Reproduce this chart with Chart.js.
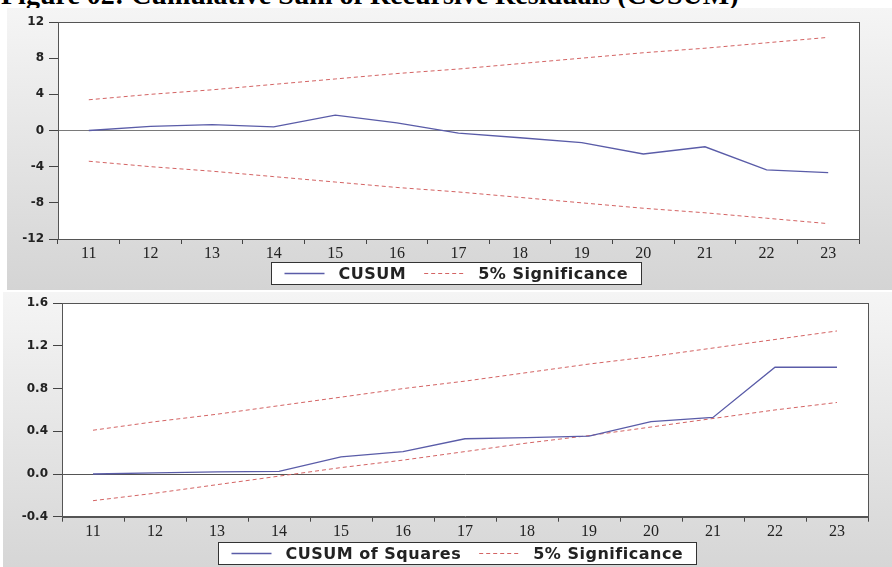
<!DOCTYPE html>
<html>
<head>
<meta charset="utf-8">
<script src="https://cdn.jsdelivr.net/npm/chart.js@4.4.1/dist/chart.umd.min.js"></script>
<style>
  html, body { margin: 0; padding: 0; background: #fff; width: 892px; height: 567px; overflow: hidden; position: relative; }
  #title { position: absolute; left: 1px; top: -21px; font: bold 28px "Liberation Serif", serif; color: #000; white-space: nowrap; }
  #panel1 { position: absolute; left: 7px; top: 8px; width: 885px; height: 282px; background: linear-gradient(#f5f5f5, #d4d4d4); }
  #panel2 { position: absolute; left: 3px; top: 292px; width: 889px; height: 275px; background: linear-gradient(#f5f5f5, #d6d6d6); }
  canvas { position: absolute; left: 0; }
  #cusumChart { top: 0; }
  #squaresChart { top: 291px; }
</style>
</head>
<body>
<div id="title">Figure 02: Cumulative Sum of Recursive Residuals (CUSUM)</div>
<div id="panel1"></div>
<div id="panel2"></div>
<canvas id="cusumChart" width="892" height="291"></canvas>
<canvas id="squaresChart" width="892" height="276"></canvas>
<script>
// Periodos del eje X
const periods = ['11', '12', '13', '14', '15', '16', '17', '18', '19', '20', '21', '22', '23'];

// CUSUM y sus bandas al 5%
const cusum = [0, 0.45, 0.65, 0.4, 1.7, 0.85, -0.3, -0.8, -1.35, -2.6, -1.8, -4.35, -4.65];
const cusumUpper = [3.4, 4.0, 4.5, 5.1, 5.7, 6.3, 6.8, 7.4, 8.0, 8.6, 9.1, 9.7, 10.3];
const cusumLower = [-3.4, -4.0, -4.5, -5.1, -5.7, -6.3, -6.8, -7.4, -8.0, -8.6, -9.1, -9.7, -10.3];

// CUSUM de cuadrados y sus bandas al 5%
const cusumSq = [0, 0.01, 0.02, 0.025, 0.16, 0.21, 0.33, 0.34, 0.355, 0.49, 0.53, 1.0, 1.0];
const sqUpper = [0.41, 0.49, 0.56, 0.64, 0.72, 0.80, 0.87, 0.95, 1.03, 1.10, 1.18, 1.26, 1.34];
const sqLower = [-0.25, -0.18, -0.10, -0.02, 0.06, 0.13, 0.21, 0.29, 0.36, 0.44, 0.52, 0.60, 0.67];

// Rangos del eje Y
const cusumAxis = { min: -12, max: 12, step: 4 };
const sqAxis = { min: -0.4, max: 1.6, step: 0.4 };

const blue = '#5a5ca8';
const red = '#d46464';

// Fondo blanco del area de trazado y marco
const framePlugin = {
    id: 'frame',
    beforeDraw(chart) {
        const a = chart.chartArea;
        const ctx = chart.ctx;
        ctx.save();
        ctx.fillStyle = '#fff';
        ctx.fillRect(a.left, a.top, a.right - a.left, a.bottom - a.top);
        ctx.restore();
    },
    afterDraw(chart) {
        const a = chart.chartArea;
        const ctx = chart.ctx;
        ctx.save();
        ctx.strokeStyle = '#555';
        ctx.lineWidth = 1;
        ctx.strokeRect(Math.round(a.left) + 0.5, Math.round(a.top) + 0.5, Math.round(a.right - a.left), Math.round(a.bottom - a.top));
        ctx.restore();
    }
};

// Leyenda con caja, al estilo EViews
const boxLegend = {
    id: 'boxLegend',
    afterDraw(chart, args, o) {
        const ctx = chart.ctx;
        const a = chart.chartArea;
        const items = chart.data.datasets.filter(d => d.label !== 'lower');
        ctx.save();
        ctx.font = 'bold 16px "DejaVu Sans"';
        if ('letterSpacing' in ctx) ctx.letterSpacing = '0.5px';
        const widths = items.map(d => ctx.measureText(d.label).width);
        const lineW = 40, gap = 14, itemGap = 18, margin = 13;
        let total = margin * 2 + itemGap * (items.length - 1);
        widths.forEach(w => { total += lineW + gap + w; });
        const cx = (a.left + a.right) / 2 + o.shift;
        const x1 = Math.round(cx - total / 2) + 0.5;
        const y1 = Math.round(o.centerY - o.height / 2) + 0.5;
        ctx.fillStyle = '#fff';
        ctx.fillRect(x1, y1, Math.round(total), o.height);
        ctx.strokeStyle = '#333';
        ctx.lineWidth = 1;
        ctx.strokeRect(x1, y1, Math.round(total), o.height);
        let x = x1 + margin;
        const cy = Math.round(o.centerY) + 0.5;
        items.forEach((d, i) => {
            ctx.beginPath();
            ctx.strokeStyle = d.borderColor;
            ctx.lineWidth = d.borderWidth;
            ctx.setLineDash(d.borderDash || []);
            ctx.moveTo(x, cy);
            ctx.lineTo(x + lineW, cy);
            ctx.stroke();
            ctx.setLineDash([]);
            x += lineW + gap;
            ctx.fillStyle = '#222';
            ctx.textBaseline = 'middle';
            ctx.fillText(d.label, x, cy + 1);
            x += widths[i] + itemGap;
        });
        ctx.restore();
    }
};

function makeChart(id, main, mainLabel, upper, lower, axis, opts) {
    const ctx = document.getElementById(id).getContext('2d');
    return new Chart(ctx, {
        type: 'line',
        data: {
            labels: periods,
            datasets: [
                { label: mainLabel, data: main, borderColor: blue, borderWidth: 1.3, pointRadius: 0, tension: 0, order: 1 },
                { label: '5% Significance', data: upper, borderColor: red, borderWidth: 1, borderDash: [4, 3], pointRadius: 0, tension: 0, order: 2 },
                { label: 'lower', data: lower, borderColor: red, borderWidth: 1, borderDash: [4, 3], pointRadius: 0, tension: 0, order: 2 }
            ]
        },
        options: {
            responsive: false,
            animation: false,
            layout: { padding: { left: 0, right: opts.right, top: opts.top, bottom: opts.bottom } },
            plugins: {
                tooltip: { enabled: false },
                legend: { display: false },
                boxLegend: { centerY: opts.legendY, height: 22, shift: opts.legendShift }
            },
            scales: {
                x: {
                    type: 'category',
                    offset: true,
                    grid: { offset: true, drawOnChartArea: false, tickLength: 5, tickColor: '#444', color: '#444' },
                    border: { color: '#555' },
                    ticks: { color: '#222', padding: 0, maxRotation: 0, font: { family: 'Liberation Serif', size: 16 } },
                    afterFit: s => { s.height = 26; }
                },
                y: {
                    min: axis.min,
                    max: axis.max,
                    grid: {
                        drawOnChartArea: true,
                        color: c => (Math.abs(c.tick.value) < 1e-9 ? opts.zeroColor : 'rgba(0,0,0,0)'),
                        tickColor: '#444',
                        tickLength: 9
                    },
                    border: { color: '#555' },
                    ticks: {
                        stepSize: axis.step,
                        padding: 5,
                        color: '#222',
                        font: { family: 'DejaVu Sans', weight: 'bold', size: 12 },
                        callback: v => opts.decimals ? Number(v).toFixed(1) : Math.round(v)
                    },
                    afterFit: s => { s.width = opts.yWidth; }
                }
            }
        },
        plugins: [framePlugin, boxLegend]
    });
}

window.onload = function() {
    makeChart('cusumChart', cusum, 'CUSUM', cusumUpper, cusumLower, cusumAxis,
        { right: 33, top: 22, bottom: 26, yWidth: 58, decimals: false, zeroColor: '#7a7a7a', legendY: 273, legendShift: -3 });
    makeChart('squaresChart', cusumSq, 'CUSUM of Squares', sqUpper, sqLower, sqAxis,
        { right: 24, top: 11.7, bottom: 24.3, yWidth: 62, decimals: true, zeroColor: '#555', legendY: 262, legendShift: -8 });
};
</script>
</body>
</html>
